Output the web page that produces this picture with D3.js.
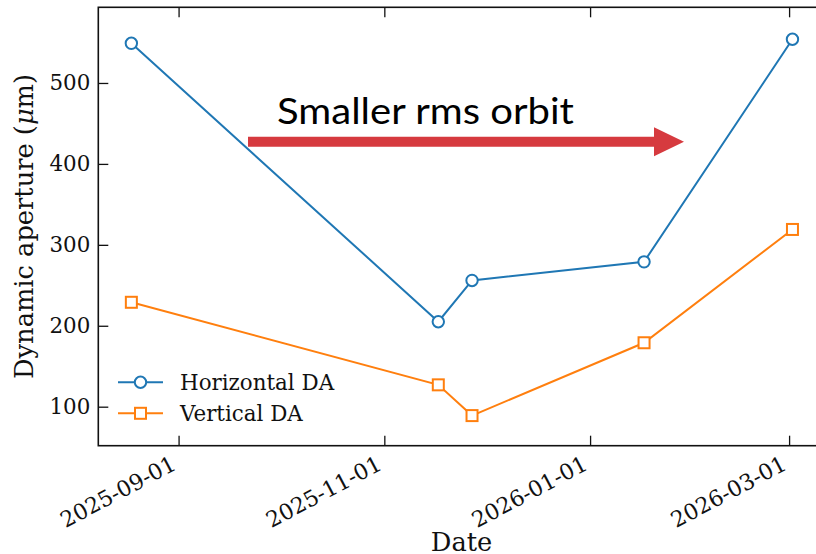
<!DOCTYPE html>
<html>
<head>
<meta charset="utf-8">
<script src="https://cdn.jsdelivr.net/npm/d3@7"></script>
<style>
  html, body { margin: 0; padding: 0; background: #fff; }
  svg { display: block; }
  text { font-family: "DejaVu Serif", serif; fill: #111; }
</style>
</head>
<body>
<svg id="chart" width="816" height="554"></svg>
<script>
// Measurement dates and dynamic aperture (µm) per plane
const dates = ["2025-08-18", "2025-11-17", "2025-11-27", "2026-01-17", "2026-03-02"];
const horizontalDA = [549, 205, 256, 279, 554];
const verticalDA = [229, 127, 89, 179, 319];

const xTicks = ["2025-09-01", "2025-11-01", "2026-01-01", "2026-03-01"];
const yTicks = [100, 200, 300, 400, 500];
const yLimits = [51.8, 593.5];

const seriesNames = ["Horizontal DA", "Vertical DA"];
const seriesColors = ["#1f77b4", "#ff7f0e"];

const parse = d3.utcParse("%Y-%m-%d");
const fmt = d3.utcFormat("%Y-%m-%d");
const dateObjs = dates.map(parse);

const svg = d3.select("#chart");

// Plot frame (right edge runs past the canvas)
const plotLeft = 98.3, plotTop = 7.3, plotBottom = 445.7;
const pxPerDay = 3.373;
const tickFont = 21.4, labelFont = 25.7;

// x limits: data range padded by 5% on each side
const [d0, d1] = d3.extent(dateObjs);
const span = d1 - d0;
const xDomain = [new Date(+d0 - 0.05 * span), new Date(+d1 + 0.05 * span)];
const plotRight = plotLeft + (xDomain[1] - xDomain[0]) / 864e5 * pxPerDay;

const x = d3.scaleUtc().domain(xDomain).range([plotLeft, plotRight]);
const y = d3.scaleLinear().domain(yLimits).range([plotBottom, plotTop]);

// Axes with inward ticks
const tickLen = 10;
const xTickDates = xTicks.map(parse);

const gx = svg.append("g").attr("transform", `translate(0,${plotBottom})`)
  .call(d3.axisBottom(x).tickValues(xTickDates).tickSize(-tickLen).tickFormat(""));
const gxTop = svg.append("g").attr("transform", `translate(0,${plotTop})`)
  .call(d3.axisTop(x).tickValues(xTickDates).tickSize(-tickLen).tickFormat(""));
const gy = svg.append("g").attr("transform", `translate(${plotLeft},0)`)
  .call(d3.axisLeft(y).tickValues(yTicks).tickSize(-tickLen).tickFormat(""));

[gx, gxTop, gy].forEach(g => {
  g.select(".domain").remove();
  g.selectAll(".tick line").attr("stroke", "#111").attr("stroke-width", 1.3);
});

// Frame
svg.append("rect")
  .attr("x", plotLeft).attr("y", plotTop)
  .attr("width", plotRight - plotLeft).attr("height", plotBottom - plotTop)
  .attr("fill", "none").attr("stroke", "#111").attr("stroke-width", 1.6);

// y tick labels
svg.append("g").selectAll("text").data(yTicks).join("text")
  .attr("x", plotLeft - 8)
  .attr("y", d => y(d))
  .attr("text-anchor", "end")
  .attr("dominant-baseline", "central")
  .attr("font-size", tickFont)
  .text(d => d);

// x tick labels, slanted
svg.append("g").selectAll("text").data(xTickDates).join("text")
  .attr("text-anchor", "end")
  .attr("font-size", 22)
  .attr("transform", d => `translate(${x(d) - 1},${plotBottom + 23}) rotate(-28)`)
  .text(d => fmt(d));

// Axis labels
svg.append("text")
  .attr("x", 461.5).attr("y", 551)
  .attr("text-anchor", "middle")
  .attr("font-size", labelFont)
  .text("Date");

const yl = svg.append("text")
  .attr("text-anchor", "middle")
  .attr("font-size", labelFont)
  .attr("transform", `translate(33.3,${(plotTop + plotBottom) / 2}) rotate(-90)`);
yl.append("tspan").text("Dynamic aperture (");
yl.append("tspan").attr("font-style", "italic").text("μ");
yl.append("tspan").text("m)");

// Series lines and markers
const seriesValues = [horizontalDA, verticalDA];
const line = d3.line().x(d => x(d[0])).y(d => y(d[1]));

const plot = svg.append("g");

function marker(sel, i, cx) {
  if (i === 0) {
    sel.append("circle").attr("cx", cx).attr("r", 5.7)
      .attr("fill", "#fff").attr("stroke", seriesColors[i]).attr("stroke-width", 2);
  } else {
    sel.append("rect").attr("x", cx - 5.5).attr("y", -5.5).attr("width", 11).attr("height", 11)
      .attr("fill", "#fff").attr("stroke", seriesColors[i]).attr("stroke-width", 2);
  }
}

seriesValues.forEach((vals, i) => {
  const pts = dateObjs.map((d, j) => [d, vals[j]]);
  plot.append("path")
    .attr("d", line(pts))
    .attr("fill", "none")
    .attr("stroke", seriesColors[i])
    .attr("stroke-width", 2);
  const m = plot.append("g").selectAll("g").data(pts).join("g")
    .attr("transform", d => `translate(${x(d[0])},${y(d[1])})`);
  marker(m, i, 0);
});

// Legend
const legend = svg.append("g").attr("transform", "translate(118,382.3)");
seriesNames.forEach((name, i) => {
  const row = legend.append("g").attr("transform", `translate(0,${i * 31})`);
  row.append("line").attr("x1", 0).attr("x2", 45).attr("y1", 0).attr("y2", 0)
    .attr("stroke", seriesColors[i]).attr("stroke-width", 2);
  marker(row, i, 22.5);
  row.append("text").attr("x", 62).attr("y", 0)
    .attr("dominant-baseline", "central")
    .attr("font-size", tickFont)
    .text(name);
});

// Annotation: arrow with caption
const note = { text: "Smaller rms orbit", tx: 277, ty: 124, x0: 248, x1: 684, yc: 141.7, shaft: 10, headLen: 30, headHalf: 14.5 };
svg.append("path")
  .attr("d", `M${note.x0},${note.yc - note.shaft / 2}
              H${note.x1 - note.headLen}
              V${note.yc - note.headHalf}
              L${note.x1},${note.yc}
              L${note.x1 - note.headLen},${note.yc + note.headHalf}
              V${note.yc + note.shaft / 2}
              H${note.x0} Z`)
  .attr("fill", "#d63a3f");
svg.append("text")
  .attr("x", note.tx).attr("y", note.ty)
  .style("font-family", "Lato, 'Open Sans', sans-serif")
  .attr("font-size", 36)
  .attr("textLength", 297)
  .attr("lengthAdjust", "spacingAndGlyphs")
  .style("fill", "#000")
  .text(note.text);
</script>
</body>
</html>
